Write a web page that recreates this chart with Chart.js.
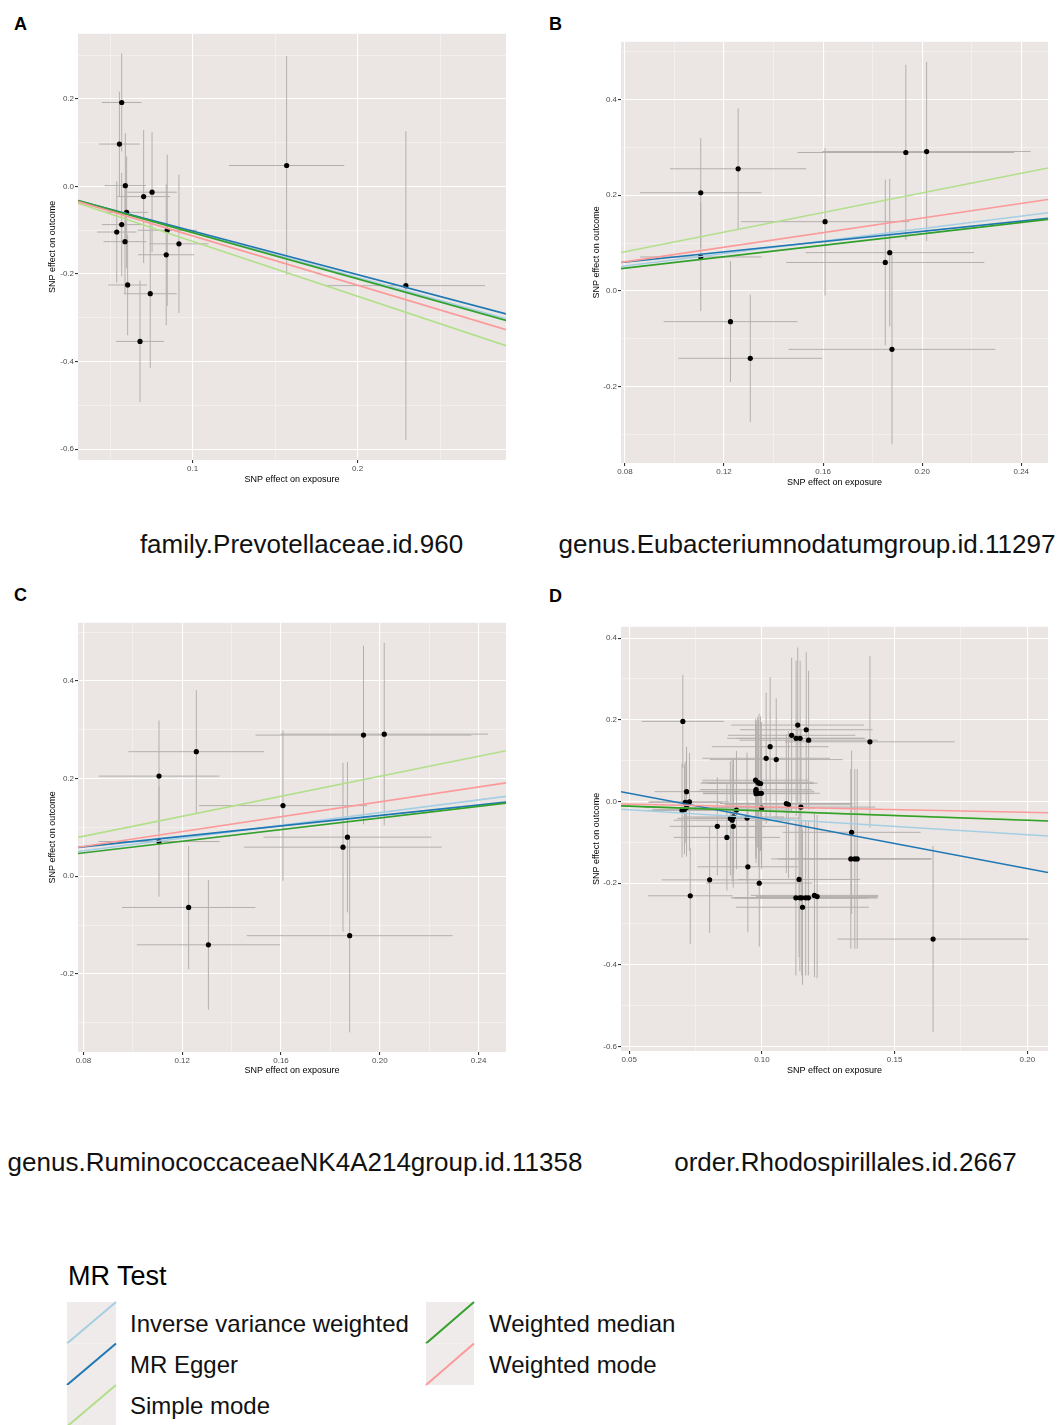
<!DOCTYPE html>
<html>
<head>
<meta charset="utf-8">
<script src="https://cdn.jsdelivr.net/npm/chart.js@4.4.0/dist/chart.umd.min.js"></script>
<style>
  body { margin: 0; background: #fff; width: 1061px; height: 1425px; position: relative; overflow: hidden; }
  canvas { position: absolute; }
  #overlay { position: absolute; left: 0; top: 0; }
  text { font-family: "Liberation Sans", Arial, sans-serif; }
</style>
</head>
<body>
<svg id="overlay" width="1061" height="1425"></svg>
<canvas id="chartA" width="463" height="457" style="left:47px;top:28px"></canvas>
<canvas id="chartB" width="461" height="452" style="left:591px;top:36px"></canvas>
<canvas id="chartC" width="463" height="459" style="left:47px;top:617px"></canvas>
<canvas id="chartD" width="461" height="455" style="left:591px;top:621px"></canvas>
<script>
// Методы MR и их цвета
const methods = ['Inverse variance weighted', 'MR Egger', 'Simple mode', 'Weighted median', 'Weighted mode'];
const methodColors = ['#a6cee3', '#1f78b4', '#b2df8a', '#33a02c', '#fb9a99'];

// Панель A: family.Prevotellaceae.id.960
const aExposure = [0.057, 0.0556, 0.0592, 0.0703, 0.0754, 0.060, 0.057, 0.054, 0.059, 0.0846, 0.0917, 0.084, 0.0606, 0.0743, 0.0681, 0.157, 0.2293];
const aOutcome = [0.192, 0.097, 0.002, -0.023, -0.013, -0.059, -0.087, -0.104, -0.126, -0.100, -0.131, -0.156, -0.225, -0.245, -0.354, 0.048, -0.2265];
const aExposureErr = [0.012, 0.0123, 0.0126, 0.016, 0.015, 0.013, 0.012, 0.012, 0.013, 0.018, 0.018, 0.017, 0.0117, 0.016, 0.0146, 0.035, 0.048];
const aOutcomeErr = [0.112, 0.12, 0.12, 0.152, 0.137, 0.128, 0.118, 0.116, 0.12, 0.173, 0.158, 0.161, 0.115, 0.17, 0.139, 0.25, 0.353];
const aSlopes = [-1.04, -0.997, -1.254, -1.055, -1.128];
const aIntercepts = [0, -0.002, 0, 0, 0];
const aXTicks = [0.1, 0.2];
const aYTicks = [-0.6, -0.4, -0.2, 0.0, 0.2];

// Панель B: genus.Eubacteriumnodatumgroup.id.11297
const bExposure = [0.1106, 0.1257, 0.1106, 0.1226, 0.1306, 0.1608, 0.1934, 0.2018, 0.1869, 0.1851, 0.1878];
const bOutcome = [0.205, 0.255, 0.071, -0.064, -0.1405, 0.1446, 0.289, 0.291, 0.080, 0.0595, -0.1218];
const bExposureErr = [0.0245, 0.0275, 0.0245, 0.027, 0.029, 0.034, 0.0437, 0.042, 0.034, 0.040, 0.0417];
const bOutcomeErr = [0.114, 0.126, 0.113, 0.126, 0.133, 0.154, 0.183, 0.187, 0.154, 0.173, 0.198];
const bSlopes = [0.651, 0.534, 1.023, 0.596, 0.7616];
const bIntercepts = [0, 0.0176, 0, 0, 0];
const bXTicks = [0.08, 0.12, 0.16, 0.20, 0.24];
const bYTicks = [-0.2, 0.0, 0.2, 0.4];

// Панель C: genus.RuminococcaceaeNK4A214group.id.11358 (та же картинка, что и B)
const cExposure = bExposure;
const cOutcome = bOutcome;
const cExposureErr = bExposureErr;
const cOutcomeErr = bOutcomeErr;
const cSlopes = bSlopes;
const cIntercepts = bIntercepts;
const cXTicks = bXTicks;
const cYTicks = bYTicks;

// Панель D: order.Rhodospirillales.id.2667
const dExposure = [0.0702, 0.0716, 0.0727, 0.0711, 0.0699, 0.0708, 0.0716, 0.073, 0.0803, 0.0832,
  0.0868, 0.0881, 0.0888, 0.0893, 0.0892, 0.0904, 0.0944, 0.0947, 0.0976, 0.0984,
  0.0989, 0.0995, 0.0978, 0.0977, 0.0978, 0.0987, 0.0998, 0.0999, 0.099, 0.1016,
  0.1031, 0.1054, 0.1092, 0.1100, 0.1112, 0.1129, 0.1135, 0.1144, 0.1167, 0.1176,
  0.1147, 0.1140, 0.1128, 0.1143, 0.1150, 0.1165, 0.1175, 0.1153, 0.1198, 0.1208,
  0.1338, 0.1335, 0.1350, 0.1359, 0.1407, 0.1645];
const dOutcome = [0.196, 0.024, -0.001, -0.002, -0.022, -0.0195, -0.015, -0.231, -0.192, -0.061,
  -0.088, -0.0415, -0.046, -0.038, -0.061, -0.021, -0.0407, -0.160, 0.052, 0.047,
  0.0447, 0.044, 0.029, 0.025, 0.019, 0.020, 0.020, -0.016, -0.200, 0.1057,
  0.134, 0.1024, -0.005, -0.008, 0.162, 0.1545, 0.187, 0.1545, 0.1756, 0.150,
  -0.0138, -0.191, -0.236, -0.236, -0.236, -0.236, -0.236, -0.259, -0.230, -0.233,
  -0.0756, -0.1407, -0.1407, -0.1407, 0.146, -0.337];
const dExposureErr = [0.0155, 0.012, 0.015, 0.014, 0.013, 0.012, 0.016, 0.016, 0.018, 0.018,
  0.02, 0.02, 0.022, 0.019, 0.02, 0.021, 0.02, 0.019, 0.02, 0.021,
  0.022, 0.02, 0.021, 0.022, 0.02, 0.021, 0.022, 0.02, 0.02, 0.024,
  0.022, 0.025, 0.025, 0.024, 0.024, 0.026, 0.025, 0.024, 0.025, 0.026,
  0.028, 0.023, 0.024, 0.026, 0.025, 0.027, 0.026, 0.025, 0.024, 0.023,
  0.026, 0.03, 0.029, 0.028, 0.032, 0.036];
const dOutcomeErr = [0.114, 0.11, 0.12, 0.10, 0.115, 0.11, 0.12, 0.118, 0.13, 0.12,
  0.13, 0.14, 0.15, 0.14, 0.15, 0.145, 0.16, 0.16, 0.15, 0.16,
  0.17, 0.165, 0.17, 0.16, 0.17, 0.18, 0.175, 0.15, 0.155, 0.16,
  0.17, 0.15, 0.17, 0.18, 0.19, 0.19, 0.19, 0.19, 0.19, 0.17,
  0.19, 0.19, 0.19, 0.18, 0.19, 0.19, 0.19, 0.19, 0.2, 0.2,
  0.2, 0.22, 0.22, 0.22, 0.21, 0.228];
const dSlopes = [-0.407, -1.228, -0.228, -0.231, -0.133];
const dIntercepts = [0, 0.0812, 0, 0, 0];
const dXTicks = [0.05, 0.10, 0.15, 0.20];
const dYTicks = [-0.6, -0.4, -0.2, 0.0, 0.2, 0.4];

const FONT = '"Liberation Sans", Arial, sans-serif';

// Фон панели как в ggplot
const panelBg = {
  id: 'panelBg',
  beforeDraw(chart) {
    const { ctx, chartArea: a } = chart;
    ctx.save();
    ctx.fillStyle = '#ebe6e4';
    ctx.fillRect(a.left, a.top, a.right - a.left, a.bottom - a.top);
    ctx.restore();
  }
};

function near(v, list) {
  return list.some(t => Math.abs(t - v) < 1e-9);
}

// Второстепенные деления — середины между основными (плюс по краям)
function minorTicks(major) {
  const step = major[1] - major[0];
  const out = [major[0] - step / 2];
  major.forEach(v => out.push(v + step / 2));
  return out.map(v => Math.round(v * 10000) / 10000);
}

function axis(min, max, major, decimals, title, horizontal, size) {
  const minor = minorTicks(major);
  return {
    type: 'linear',
    min: min,
    max: max,
    afterBuildTicks: s => {
      s.ticks = major.concat(minor).filter(v => v >= min && v <= max)
        .sort((p, q) => p - q).map(v => ({ value: v }));
    },
    afterFit: s => { if (horizontal) s.height = size; else s.width = size; },
    ticks: {
      autoSkip: false,
      maxRotation: 0,
      padding: 1,
      color: '#4d4d4d',
      font: { size: 8, family: FONT },
      callback: v => near(v, major) ? v.toFixed(decimals) : ''
    },
    grid: {
      color: c => (c.tick && near(c.tick.value, major)) ? '#ffffff' : 'rgba(255,255,255,0.7)',
      lineWidth: c => (c.tick && near(c.tick.value, major)) ? 1.1 : 0.55,
      tickLength: 3,
      tickColor: c => (c.tick && near(c.tick.value, major)) ? '#333333' : 'rgba(0,0,0,0)'
    },
    border: { display: false },
    title: { display: true, text: title, color: '#000', font: { size: 9, family: FONT }, padding: 0 }
  };
}

function errorSegments(xs, ys, xErr, yErr, horizontal) {
  const pts = [];
  xs.forEach((x, i) => {
    if (horizontal) pts.push({ x: x - xErr[i], y: ys[i] }, { x: x + xErr[i], y: ys[i] });
    else pts.push({ x: x, y: ys[i] - yErr[i] }, { x: x, y: ys[i] + yErr[i] });
    pts.push({ x: x, y: null });
  });
  return pts;
}

function renderPanel(id, p) {
  const datasets = [];
  methods.forEach((m, k) => {
    datasets.push({
      label: m,
      data: [
        { x: p.xMin, y: p.intercepts[k] + p.slopes[k] * p.xMin },
        { x: p.xMax, y: p.intercepts[k] + p.slopes[k] * p.xMax }
      ],
      showLine: true, borderColor: methodColors[k], borderWidth: 1.6,
      pointRadius: 0, order: 5 - k
    });
  });
  datasets.push({
    label: 'SNP',
    data: p.xs.map((x, i) => ({ x: x, y: p.ys[i] })),
    pointRadius: 2.6, pointBackgroundColor: '#000', pointBorderWidth: 0, order: 6
  });
  datasets.push({
    label: 'errV', data: errorSegments(p.xs, p.ys, p.xe, p.ye, false),
    showLine: true, borderColor: '#b3afad', borderWidth: 1, pointRadius: 0, spanGaps: false, order: 7
  });
  datasets.push({
    label: 'errH', data: errorSegments(p.xs, p.ys, p.xe, p.ye, true),
    showLine: true, borderColor: '#b3afad', borderWidth: 1, pointRadius: 0, spanGaps: false, order: 8
  });

  new Chart(document.getElementById(id), {
    type: 'scatter',
    data: { datasets: datasets },
    options: {
      responsive: false,
      animation: false,
      devicePixelRatio: 1,
      layout: { padding: { top: 4, right: 4, left: 0, bottom: 0 } },
      plugins: { legend: { display: false }, tooltip: { enabled: false } },
      scales: {
        x: axis(p.xMin, p.xMax, p.xTicks, p.xDec, 'SNP effect on exposure', true, p.h),
        y: axis(p.yMin, p.yMax, p.yTicks, 1, 'SNP effect on outcome', false, p.w)
      }
    },
    plugins: [panelBg]
  });
}

renderPanel('chartA', { xs: aExposure, ys: aOutcome, xe: aExposureErr, ye: aOutcomeErr,
  slopes: aSlopes, intercepts: aIntercepts, xTicks: aXTicks, yTicks: aYTicks, xDec: 1,
  xMin: 0.0305, xMax: 0.290, yMin: -0.625, yMax: 0.349, w: 31, h: 25 });
renderPanel('chartB', { xs: bExposure, ys: bOutcome, xe: bExposureErr, ye: bOutcomeErr,
  slopes: bSlopes, intercepts: bIntercepts, xTicks: bXTicks, yTicks: bYTicks, xDec: 2,
  xMin: 0.0784, xMax: 0.2508, yMin: -0.359, yMax: 0.52, w: 30, h: 25 });
renderPanel('chartC', { xs: cExposure, ys: cOutcome, xe: cExposureErr, ye: cOutcomeErr,
  slopes: cSlopes, intercepts: cIntercepts, xTicks: cXTicks, yTicks: cYTicks, xDec: 2,
  xMin: 0.0778, xMax: 0.2511, yMin: -0.36, yMax: 0.519, w: 31, h: 24 });
renderPanel('chartD', { xs: dExposure, ys: dOutcome, xe: dExposureErr, ye: dOutcomeErr,
  slopes: dSlopes, intercepts: dIntercepts, xTicks: dXTicks, yTicks: dYTicks, xDec: 2,
  xMin: 0.0469, xMax: 0.2078, yMin: -0.611, yMax: 0.4276, w: 30, h: 25 });

// Подписи панелей, названия и легенда
const svg = document.getElementById('overlay');
const NS = 'http://www.w3.org/2000/svg';
function el(tag, attrs, text) {
  const e = document.createElementNS(NS, tag);
  Object.keys(attrs).forEach(k => e.setAttribute(k, attrs[k]));
  if (text) e.textContent = text;
  svg.appendChild(e);
  return e;
}

[['A', 14, 30], ['B', 549, 30], ['C', 14, 601], ['D', 549, 602]].forEach(([t, x, y]) => {
  el('text', { x: x, y: y, 'font-size': 18, 'font-weight': 'bold', fill: '#000' }, t);
});

const panelTitles = ['family.Prevotellaceae.id.960', 'genus.Eubacteriumnodatumgroup.id.11297',
  'genus.RuminococcaceaeNK4A214group.id.11358', 'order.Rhodospirillales.id.2667'];
[[301.5, 553], [807, 553], [295, 1171], [845.5, 1171]].forEach(([x, y], i) => {
  el('text', { x: x, y: y, 'font-size': 26, 'text-anchor': 'middle', fill: '#111' }, panelTitles[i]);
});

el('text', { x: 68, y: 1285, 'font-size': 27, fill: '#000' }, 'MR Test');
methods.forEach((m, k) => {
  const col = Math.floor(k / 3), row = k % 3;
  const kx = col === 0 ? 67 : 426, kw = col === 0 ? 49 : 48;
  const ky = 1302 + row * 41.5, kh = 41.5;
  el('rect', { x: kx, y: ky, width: kw, height: kh, fill: '#efebea' });
  el('line', { x1: kx, y1: ky + kh, x2: kx + kw, y2: ky, stroke: methodColors[k], 'stroke-width': 2 });
  el('text', { x: kx + 63, y: 1332 + row * 41, 'font-size': 24, fill: '#111' }, m);
});
</script>
</body>
</html>
